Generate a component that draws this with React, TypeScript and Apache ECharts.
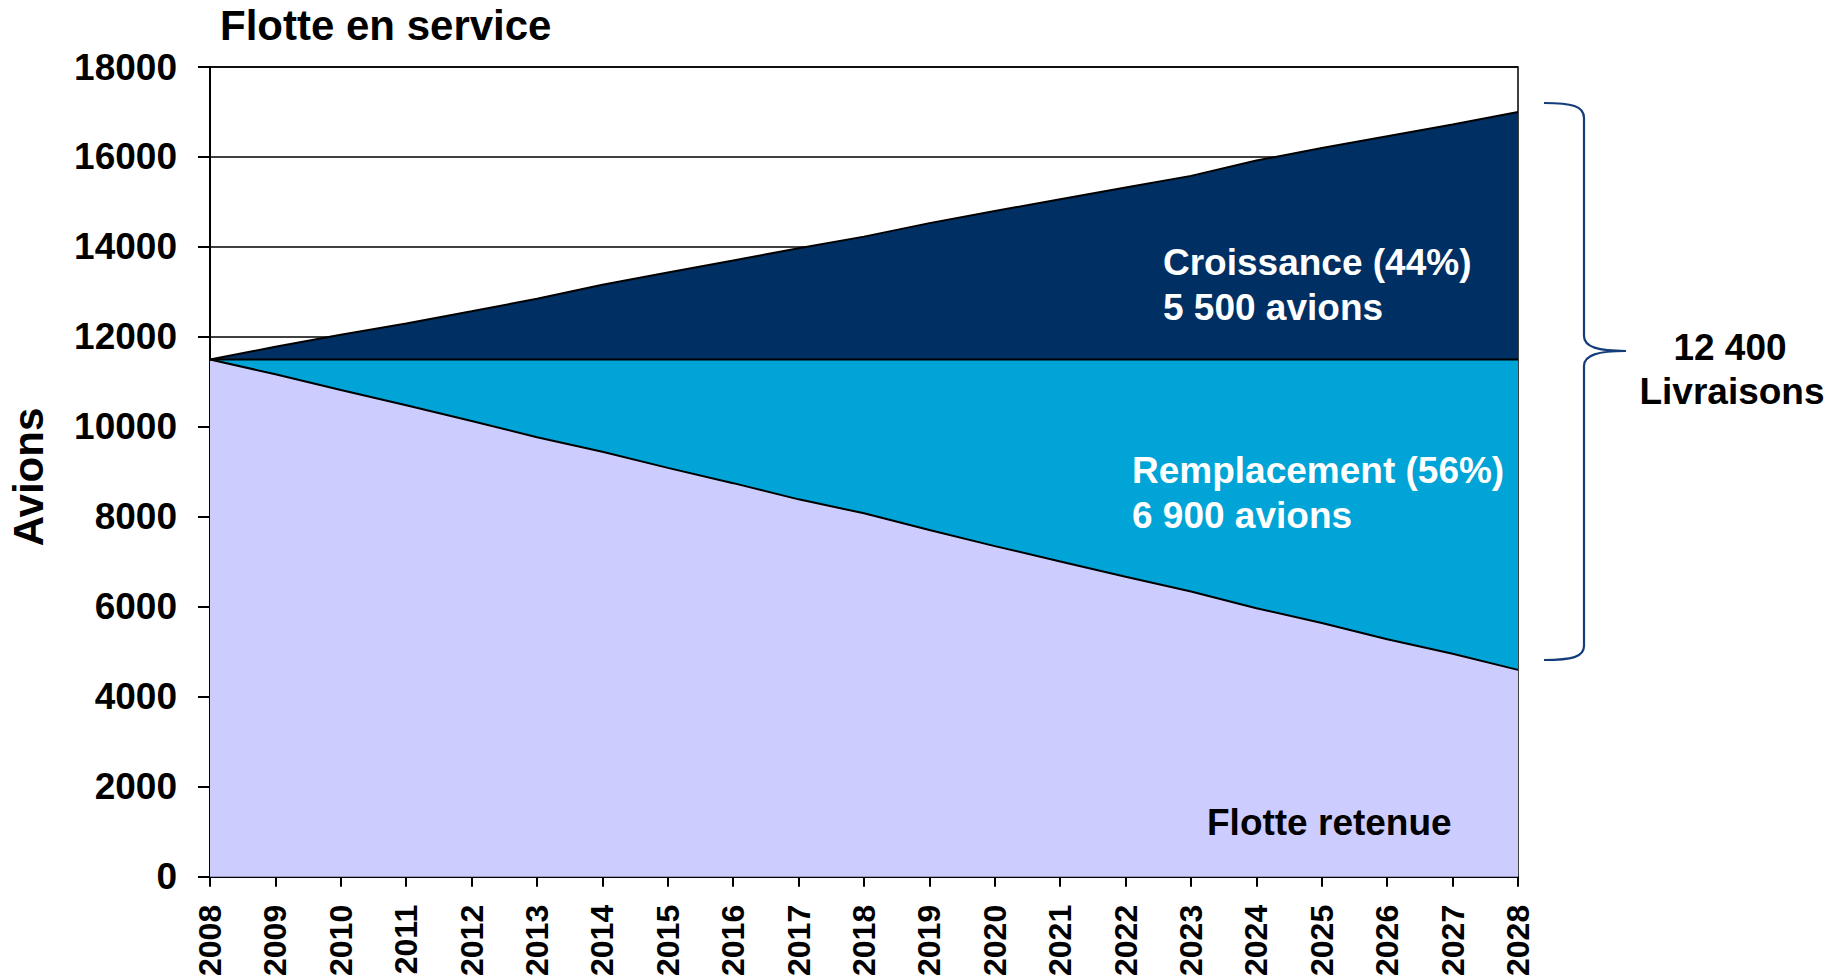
import React, { useEffect, useRef } from "react";
import * as echarts from "echarts";

const years = [
  "2008", "2009", "2010", "2011", "2012", "2013", "2014", "2015", "2016", "2017",
  "2018", "2019", "2020", "2021", "2022", "2023", "2024", "2025", "2026", "2027", "2028",
];
// Total fleet in service (top line)
const totalFleet = [
  11500, 11780, 12050, 12300, 12570, 12850, 13160, 13430, 13700, 13970,
  14230, 14530, 14800, 15060, 15320, 15580, 15920, 16200, 16460, 16720, 17000,
];
// Retained fleet (bottom area)
const retainedFleet = [
  11500, 11170, 10820, 10480, 10130, 9770, 9450, 9090, 8750, 8390,
  8080, 7710, 7350, 7010, 6670, 6340, 5970, 5640, 5280, 4960, 4600,
];
const baseFleet = 11500;
const yTicks = { min: 0, max: 18000, interval: 2000 };

const replacement = retainedFleet.map((v) => baseFleet - v);
const growth = totalFleet.map((v) => v - baseFleet);

const FONT = 'Arial, "Liberation Sans", sans-serif';

echarts.graphic.registerShape(
  "brace",
  echarts.graphic.extendPath(
    "M1544,103 C1572,103 1584,106 1584,118 L1584,336 C1584,347 1598,351 1626,351 C1598,351 1584,355 1584,366 L1584,646 C1584,657 1572,660 1544,660",
    {}
  )
);

export default function App() {
  const ref = useRef<HTMLDivElement>(null);
  useEffect(() => {
    if (!ref.current) return;
    const chart = echarts.init(ref.current, null, { renderer: "svg" });
    const white = { fill: "#fff", font: `bold 37px ${FONT}` };
    const black = { fill: "#000", font: `bold 37px ${FONT}` };
    chart.setOption({
      animation: false,
      backgroundColor: "#fff",
      grid: {
        left: 210,
        right: 319,
        top: 67,
        bottom: 100,
        show: true,
        borderColor: "#000",
        borderWidth: 1.5,
        backgroundColor: "transparent",
      },
      xAxis: {
        type: "category",
        data: years,
        boundaryGap: false,
        axisLine: { lineStyle: { color: "#000", width: 2 } },
        axisTick: { show: true, length: 10, lineStyle: { color: "#000", width: 2 } },
        axisLabel: {
          interval: 0,
          rotate: 90,
          margin: 28,
          color: "#000",
          fontSize: 32,
          fontWeight: "bold",
          fontFamily: FONT,
        },
        splitLine: { show: false },
      },
      yAxis: {
        type: "value",
        min: yTicks.min,
        max: yTicks.max,
        interval: yTicks.interval,
        axisLine: { show: true, lineStyle: { color: "#000", width: 2 } },
        axisTick: { show: true, length: 12, lineStyle: { color: "#000", width: 2 } },
        axisLabel: {
          margin: 33,
          color: "#000",
          fontSize: 37,
          fontWeight: "bold",
          fontFamily: FONT,
          formatter: (v: number) => String(v),
        },
        splitLine: { show: true, lineStyle: { color: "#000", width: 1.5 } },
      },
      series: [
        {
          name: "Flotte retenue",
          type: "line",
          stack: "fleet",
          data: retainedFleet,
          symbol: "none",
          lineStyle: { color: "#000", width: 2 },
          areaStyle: { color: "#CCCCFF", opacity: 1 },
        },
        {
          name: "Remplacement",
          type: "line",
          stack: "fleet",
          data: replacement,
          symbol: "none",
          lineStyle: { color: "#000", width: 2 },
          areaStyle: { color: "#00A4D6", opacity: 1 },
        },
        {
          name: "Croissance",
          type: "line",
          stack: "fleet",
          data: growth,
          symbol: "none",
          lineStyle: { color: "#000", width: 2 },
          areaStyle: { color: "#003063", opacity: 1 },
        },
      ],
      graphic: [
        {
          type: "text",
          left: 220,
          top: 4,
          z: 100,
          style: { text: "Flotte en service", fill: "#000", font: `bold 42px ${FONT}` },
        },
        {
          type: "text",
          x: 28,
          y: 477,
          z: 100,
          rotation: Math.PI / 2,
          style: {
            text: "Avions",
            fill: "#000",
            font: `bold 42px ${FONT}`,
            align: "center",
            verticalAlign: "middle",
          },
        },
        { type: "text", x: 1163, y: 262, z: 100, style: { ...white, text: "Croissance (44%)", verticalAlign: "middle" } },
        { type: "text", x: 1163, y: 307, z: 100, style: { ...white, text: "5 500 avions", verticalAlign: "middle" } },
        { type: "text", x: 1132, y: 470, z: 100, style: { ...white, text: "Remplacement (56%)", verticalAlign: "middle" } },
        { type: "text", x: 1132, y: 515, z: 100, style: { ...white, text: "6 900 avions", verticalAlign: "middle" } },
        { type: "text", x: 1207, y: 822, z: 100, style: { ...black, text: "Flotte retenue", verticalAlign: "middle" } },
        { type: "text", x: 1730, y: 347, z: 100, style: { ...black, text: "12 400", align: "center", verticalAlign: "middle" } },
        { type: "text", x: 1732, y: 391, z: 100, style: { ...black, text: "Livraisons", align: "center", verticalAlign: "middle" } },
        {
          type: "brace",
          x: 0,
          y: 0,
          z: 100,
          style: { fill: "none", stroke: "#123D7A", lineWidth: 2.2 },
        },
      ],
    });
    return () => chart.dispose();
  }, []);
  return (
    <div
      ref={ref}
      style={{ position: "fixed", left: 0, top: 0, width: 1837, height: 979 }}
    />
  );
}
